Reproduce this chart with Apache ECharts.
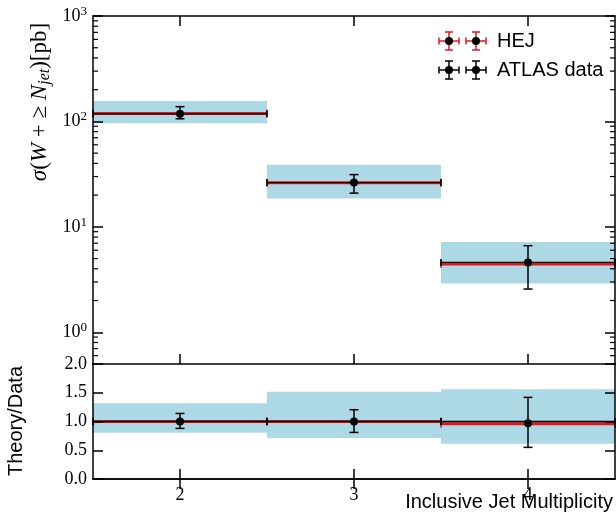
<!DOCTYPE html>
<html><head><meta charset="utf-8">
<script src="https://cdn.jsdelivr.net/npm/echarts@6/dist/echarts.min.js"></script>
<style>html,body{margin:0;padding:0;background:#fff}#c{width:616px;height:513px}</style>
</head><body><div id="c"></div>
<script>
// ---- data ----
const binLow = [1.5, 2.5, 3.5];
const binHigh = [2.5, 3.5, 4.5];
const binCenter = [2, 3, 4];
const hejXsec = [119, 26.2, 4.45];
const hejBandLow = [96, 18.6, 2.9];
const hejBandHigh = [156, 38.9, 7.2];
const dataXsec = [118, 26.3, 4.6];
const dataErrLow = [106, 20.9, 2.57];
const dataErrHigh = [138, 31.3, 6.63];
const ratioHej = [1.0, 1.0, 0.96];
const ratioBandLow = [0.805, 0.713, 0.614];
const ratioBandHigh = [1.317, 1.518, 1.56];
const ratioDataLine = [1.0, 1.0, 1.0];
const ratioData = [1.0, 1.0, 0.97];
const ratioErrLow = [0.88, 0.81, 0.55];
const ratioErrHigh = [1.14, 1.205, 1.42];
const xTickValues = [2, 3, 4];
const logMinorTicks = [0.6,0.7,0.8,0.9, 2,3,4,5,6,7,8,9, 20,30,40,50,60,70,80,90, 200,300,400,500,600,700,800,900];
const ratioTickLabels = ['0.0','0.5','1.0','1.5','2.0'];

const SERIF = '"Liberation Serif", "DejaVu Serif", serif';
const SANS = '"Liberation Sans", Arial, sans-serif';
const BAND = '#add8e6';

function bandSeries(xi, yi, lows, highs) {
  return {
    type: 'custom', xAxisIndex: xi, yAxisIndex: yi, z: 1, silent: true,
    encode: {x: [0, 1], y: [2, 3]},
    data: binLow.map((l, i) => [l, binHigh[i], lows[i], highs[i]]),
    renderItem: (p, api) => {
      const a = api.coord([api.value(0), api.value(3)]);
      const b = api.coord([api.value(1), api.value(2)]);
      return {type: 'rect', shape: {x: a[0], y: a[1], width: b[0] - a[0], height: b[1] - a[1]},
        style: {fill: BAND}};
    }
  };
}
function hLineSeries(xi, yi, vals, color, width, cap, z) {
  return {
    type: 'custom', xAxisIndex: xi, yAxisIndex: yi, z: z, silent: true,
    encode: {x: [0, 1], y: 2},
    data: binLow.map((l, i) => [l, binHigh[i], vals[i]]),
    renderItem: (p, api) => {
      const a = api.coord([api.value(0), api.value(2)]);
      const b = api.coord([api.value(1), api.value(2)]);
      const st = {stroke: color, lineWidth: width};
      return {type: 'group', children: [
        {type: 'line', shape: {x1: a[0], y1: a[1], x2: b[0], y2: b[1]}, style: st},
        {type: 'line', shape: {x1: a[0], y1: a[1] - cap, x2: a[0], y2: a[1] + cap}, style: {stroke: color, lineWidth: 1.5}},
        {type: 'line', shape: {x1: b[0], y1: b[1] - cap, x2: b[0], y2: b[1] + cap}, style: {stroke: color, lineWidth: 1.5}}
      ]};
    }
  };
}
function errSeries(xi, yi, vals, lows, highs) {
  return {
    type: 'custom', xAxisIndex: xi, yAxisIndex: yi, z: 6, silent: true,
    encode: {x: 0, y: [1, 2, 3]},
    data: binCenter.map((c, i) => [c, vals[i], lows[i], highs[i]]),
    renderItem: (p, api) => {
      const c = api.coord([api.value(0), api.value(1)]);
      const lo = api.coord([api.value(0), api.value(2)]);
      const hi = api.coord([api.value(0), api.value(3)]);
      const st = {stroke: '#000', lineWidth: 1.5};
      return {type: 'group', children: [
        {type: 'line', shape: {x1: lo[0], y1: lo[1], x2: hi[0], y2: hi[1]}, style: st},
        {type: 'line', shape: {x1: lo[0] - 4.5, y1: lo[1], x2: lo[0] + 4.5, y2: lo[1]}, style: st},
        {type: 'line', shape: {x1: hi[0] - 4.5, y1: hi[1], x2: hi[0] + 4.5, y2: hi[1]}, style: st},
        {type: 'circle', shape: {cx: c[0], cy: c[1], r: 4}, style: {fill: '#000'}}
      ]};
    }
  };
}
function minorTickSeries() {
  return {
    type: 'custom', xAxisIndex: 0, yAxisIndex: 0, z: 7, silent: true,
    encode: {x: 0, y: 1},
    data: logMinorTicks.map(v => [1.5, v]),
    renderItem: (p, api) => {
      const l = api.coord([1.5, api.value(1)]);
      const r = api.coord([4.5, api.value(1)]);
      const st = {stroke: '#000', lineWidth: 1.2};
      return {type: 'group', children: [
        {type: 'line', shape: {x1: l[0], y1: l[1], x2: l[0] + 5, y2: l[1]}, style: st},
        {type: 'line', shape: {x1: r[0], y1: r[1], x2: r[0] - 5, y2: r[1]}, style: st}
      ]};
    }
  };
}

const axLine = {show: true, lineStyle: {color: '#000', width: 1.5}};
const tickIn = {show: true, inside: true, length: 10, lineStyle: {color: '#000', width: 1.5}};

function xAx(grid, pos, labels) {
  return {
    type: 'value', gridIndex: grid, position: pos, min: 1.5, max: 4.5, z: 10,
    axisLine: axLine, splitLine: {show: false},
    axisTick: Object.assign({}, tickIn, {customValues: xTickValues}),
    axisLabel: labels ? {show: true, customValues: xTickValues, margin: 7, color: '#000',
      fontFamily: SERIF, fontSize: 18} : {show: false}
  };
}

const chart = echarts.init(document.getElementById('c'), null, {renderer: 'canvas'});
chart.setOption({
  backgroundColor: '#fff',
  animation: false,
  grid: [
    {left: 93, top: 16, width: 522, height: 348},
    {left: 93, top: 364, width: 522, height: 115}
  ],
  xAxis: [xAx(0, 'bottom', false), xAx(0, 'top', false), xAx(1, 'bottom', true), xAx(1, 'top', false)],
  yAxis: [
    {type: 'log', gridIndex: 0, position: 'left', min: 0.5, max: 1000, logBase: 10, z: 10,
      axisLine: axLine, axisTick: tickIn, splitLine: {show: false},
      axisLabel: {show: true, margin: 6, color: '#000', fontFamily: SERIF,
        formatter: v => {
          const e = Math.round(Math.log10(v));
          if (Math.abs(Math.pow(10, e) - v) > 1e-6 * v) return '';
          return '{b|10}{s|' + e + '}';
        },
        rich: {b: {fontFamily: SERIF, fontSize: 18, color: '#000'},
               s: {fontFamily: SERIF, fontSize: 13, color: '#000', verticalAlign: 'top', padding: [0, 0, 9, 0]}}}},
    {type: 'log', gridIndex: 0, position: 'right', min: 0.5, max: 1000, logBase: 10, z: 10,
      axisLine: axLine, axisTick: tickIn, splitLine: {show: false}, axisLabel: {show: false}},
    {type: 'value', gridIndex: 1, position: 'left', min: 0, max: 2, interval: 0.5, z: 10,
      axisLine: axLine, axisTick: tickIn, splitLine: {show: false},
      axisLabel: {show: true, margin: 6, color: '#000', fontFamily: SERIF, fontSize: 18,
        formatter: v => ratioTickLabels[Math.round(v * 2)]}},
    {type: 'value', gridIndex: 1, position: 'right', min: 0, max: 2, interval: 0.5, z: 10,
      axisLine: axLine, axisTick: tickIn, splitLine: {show: false}, axisLabel: {show: false}}
  ],
  series: [
    bandSeries(0, 0, hejBandLow, hejBandHigh),
    hLineSeries(0, 0, hejXsec, '#e8141c', 3, 4, 3),
    hLineSeries(0, 0, dataXsec, '#000', 1.3, 3.5, 4),
    errSeries(0, 0, dataXsec, dataErrLow, dataErrHigh),
    minorTickSeries(),
    bandSeries(2, 2, ratioBandLow, ratioBandHigh),
    hLineSeries(2, 2, ratioHej, '#e8141c', 3, 4, 3),
    hLineSeries(2, 2, ratioDataLine, '#000', 1.3, 3.5, 4),
    errSeries(2, 2, ratioData, ratioErrLow, ratioErrHigh)
  ],
  graphic: [
    {type: 'text', x: 40, y: 102, rotation: Math.PI / 2, z: 20,
      style: {text: '{i|σ}{n|(}{i|W}{n| + ≥ }{i|N}{sub|jet}{n|)[pb]}', align: 'center', verticalAlign: 'middle',
        rich: {
          i: {fontFamily: SERIF, fontStyle: 'italic', fontSize: 23, fill: '#000'},
          n: {fontFamily: SERIF, fontSize: 23, fill: '#000'},
          sub: {fontFamily: SERIF, fontStyle: 'italic', fontSize: 16, fill: '#000', verticalAlign: 'bottom', padding: [10, 0, 0, 0]}
        }}},
    {type: 'text', x: 16, y: 421, rotation: Math.PI / 2, z: 20,
      style: {text: 'Theory/Data', fontFamily: SANS, fontSize: 20, fill: '#000', align: 'center', verticalAlign: 'middle'}},
    {type: 'text', x: 613, y: 502, z: 20,
      style: {text: 'Inclusive Jet Multiplicity', fontFamily: SANS, fontSize: 20, fill: '#000', align: 'right', verticalAlign: 'middle'}},
    // legend
    ...[[41, '#e8141c', 'HEJ'], [70, '#000', 'ATLAS data']].flatMap(([y, col, label]) => {
      const items = [];
      [449, 476].forEach(x => {
        const st = {stroke: col, lineWidth: 1.5};
        items.push({type: 'line', z: 20, shape: {x1: x - 10, y1: y, x2: x + 10, y2: y}, style: st});
        items.push({type: 'line', z: 20, shape: {x1: x - 10, y1: y - 3.5, x2: x - 10, y2: y + 3.5}, style: st});
        items.push({type: 'line', z: 20, shape: {x1: x + 10, y1: y - 3.5, x2: x + 10, y2: y + 3.5}, style: st});
        items.push({type: 'line', z: 20, shape: {x1: x, y1: y - 9, x2: x, y2: y + 9}, style: st});
        items.push({type: 'line', z: 20, shape: {x1: x - 4, y1: y - 9, x2: x + 4, y2: y - 9}, style: st});
        items.push({type: 'line', z: 20, shape: {x1: x - 4, y1: y + 9, x2: x + 4, y2: y + 9}, style: st});
        items.push({type: 'circle', z: 21, shape: {cx: x, cy: y, r: 4}, style: {fill: '#000'}});
      });
      items.push({type: 'text', z: 20, x: 497, y: y,
        style: {text: label, fontFamily: SANS, fontSize: 20, fill: '#000', align: 'left', verticalAlign: 'middle'}});
      return items;
    })
  ]
});
</script>
</body></html>
